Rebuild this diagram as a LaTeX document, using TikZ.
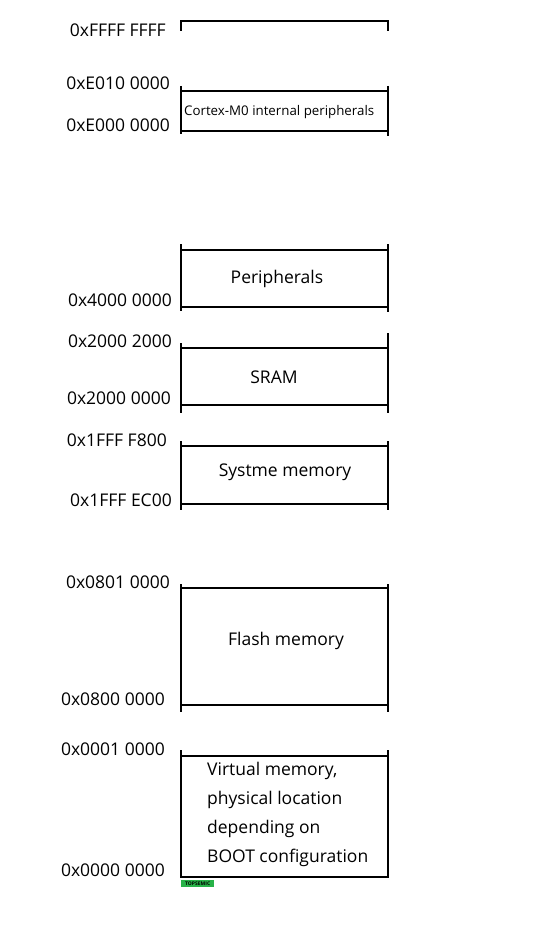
\documentclass[tikz,border=0pt]{standalone}
\usepackage{fontspec}
\setmainfont{Open Sans}
\usepackage{tikz}
\usetikzlibrary{positioning}
\definecolor{markgreen}{RGB}{40,178,72}
\tikzset{
  addr/.style={anchor=east, inner sep=0pt, font=\fontsize{17.5}{21}\selectfont},
  area/.style={inner sep=0pt, font=\fontsize{17.5}{21}\selectfont},
  edge/.style={line width=1.2pt},
}

\begin{document}
\begin{tikzpicture}[x=1pt,y=-1pt]
\useasboundingbox (0,0) rectangle (556,928);

% top of the address space
\draw[edge] (181,31) -- (181,21) -- (388,21) -- (388,31);
\node[addr] (top) at (166,30) {0xFFFF FFFF};

% Cortex-M0 internal peripherals
\draw[edge] (181,86) -- (181,134);
\draw[edge] (388,86) -- (388,136);
\draw[edge] (181,91) -- (388,91);
\draw[edge] (181,131) -- (388,131);
\node[inner sep=0pt, anchor=west, font=\fontsize{13.3}{16}\selectfont] (ppb) at (184,112) {Cortex-M0 internal peripherals};
\node[addr] (ppbhi) at (170,83) {0xE010 0000};
\node[addr] (ppblo) at (170,125) {0xE000 0000};

% Peripherals
\draw[edge] (181,244) -- (181,311);
\draw[edge] (388,244) -- (388,312);
\draw[edge] (181,250) -- (388,250);
\draw[edge] (181,307) -- (388,307);
\node[area] (periph) at (277,279) {Peripherals};
\node[addr] (periphlo) at (172,300) {0x4000 0000};

% SRAM
\draw[edge] (181,343) -- (181,413);
\draw[edge] (388,333) -- (388,413);
\draw[edge] (181,348) -- (388,348);
\draw[edge] (181,405) -- (388,405);
\node[area] (sram) at (274,377) {SRAM};
\node[addr] (sramhi) at (172,341) {0x2000 2000};
\node[addr] (sramlo) at (171,398) {0x2000 0000};

% System memory
\draw[edge] (181,441) -- (181,510);
\draw[edge] (388,441) -- (388,510);
\draw[edge] (181,446) -- (388,446);
\draw[edge] (181,504) -- (388,504);
\node[area] (sysmem) at (285,472) {Systme memory};
\node[addr] (syshi) at (167,440) {0x1FFF F800};
\node[addr] (syslo) at (172,500) {0x1FFF EC00};

% Flash memory
\draw[edge] (181,584) -- (181,712);
\draw[edge] (388,584) -- (388,712);
\draw[edge] (181,588) -- (388,588);
\draw[edge] (181,705) -- (388,705);
\node[area] (flash) at (286,641) {Flash memory};
\node[addr] (flashhi) at (170,582) {0x0801 0000};
\node[addr] (flashlo) at (165,699) {0x0800 0000};

% boot alias
\draw[edge] (181,750) -- (181,877) -- (388,877) -- (388,750);
\draw[edge] (181,756) -- (388,756);
\node[area, anchor=base west, align=left, font=\fontsize{17.5}{29}\selectfont] (alias) at (207,862)
  {Virtual memory,\\physical location\\depending on\\BOOT configuration};
\node[addr] (aliashi) at (165,749) {0x0001 0000};
\node[addr] (aliaslo) at (165,870) {0x0000 0000};

\node[fill=markgreen, inner sep=0pt, minimum width=33pt, minimum height=7pt, anchor=north west,
  font=\fontsize{5}{5}\selectfont\bfseries] (mark) at (181,880) {TOPSEMIC};
\end{tikzpicture}
\end{document}
